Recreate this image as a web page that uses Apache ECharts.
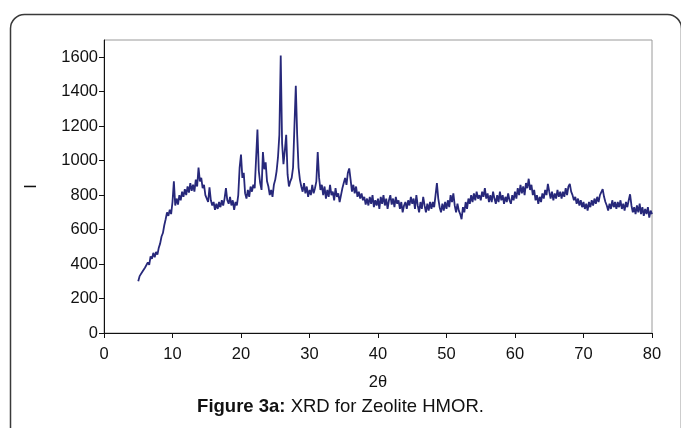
<!DOCTYPE html>
<html lang="en" style="height: 100%">
<head>
  <meta charset="utf-8" />
  <title>XRD for Zeolite HMOR</title>
</head>
<body style="height: 100%; margin: 0; background: #fff">
  <div id="container" style="width: 681px; height: 428px"></div>

  <script src="https://cdn.jsdelivr.net/npm/echarts@6/dist/echarts.min.js"></script>

  <script>
    // 2θ sampling: starts at 5°, one reading every 0.2°
    const thetaStart = 5;
    const thetaStep = 0.2;

    // intensity readings, 5° per block
    const I_05 = [300, 330, 320, 355, 345, 380, 370, 410, 395, 445, 430, 465, 440, 470, 455, 495, 520, 560, 580, 625, 660, 700, 680, 715, 690];
    const I_10 = [760, 880, 740, 780, 745, 800, 770, 820, 790, 835, 800, 850, 815, 870, 825, 860, 820, 890, 850, 960, 880, 900, 840, 860, 800];
    const I_15 = [790, 760, 845, 770, 740, 760, 715, 750, 720, 760, 730, 770, 740, 780, 840, 770, 750, 790, 740, 770, 715, 760, 740, 800, 960];
    const I_20 = [1035, 900, 930, 810, 780, 830, 790, 850, 820, 860, 840, 1010, 1180, 940, 870, 830, 1050, 950, 990, 880, 850, 800, 830, 790, 860];
    const I_25 = [890, 940, 1020, 1150, 1610, 1100, 980, 1060, 1150, 920, 850, 880, 900, 960, 1200, 1435, 1150, 960, 890, 850, 820, 870, 810, 850, 790];
    const I_30 = [830, 800, 860, 810, 840, 880, 1050, 900, 830, 860, 800, 850, 780, 830, 790, 860, 800, 820, 770, 840, 790, 810, 760, 800, 840];
    const I_35 = [870, 900, 860, 930, 955, 890, 820, 860, 810, 850, 790, 820, 780, 810, 770, 790, 745, 780, 740, 790, 750, 800, 730, 770, 740];
    const I_40 = [780, 720, 790, 750, 800, 740, 780, 720, 770, 800, 745, 780, 730, 790, 750, 770, 720, 760, 700, 740, 760, 720, 770, 740, 790];
    const I_45 = [750, 780, 720, 800, 740, 700, 760, 720, 790, 740, 700, 750, 710, 760, 720, 760, 730, 800, 870, 780, 730, 700, 750, 710, 760];
    const I_50 = [720, 770, 730, 800, 760, 810, 740, 700, 750, 710, 690, 660, 730, 700, 760, 720, 780, 750, 800, 760, 810, 770, 820, 780, 800];
    const I_55 = [770, 820, 790, 840, 780, 810, 760, 800, 760, 820, 780, 750, 800, 760, 820, 770, 800, 750, 790, 760, 810, 770, 750, 800, 770];
    const I_60 = [820, 780, 840, 800, 860, 810, 850, 800, 870, 840, 895, 830, 860, 800, 830, 770, 800, 750, 790, 760, 810, 780, 830, 800, 865];
    const I_65 = [820, 780, 820, 770, 810, 780, 830, 790, 820, 780, 820, 790, 840, 800, 850, 865, 820, 800, 770, 790, 750, 780, 740, 770, 730];
    const I_70 = [760, 720, 750, 710, 760, 730, 770, 740, 780, 750, 790, 760, 800, 790, 835, 790, 760, 740, 710, 750, 720, 770, 730, 760, 720];
    const I_75 = [760, 730, 770, 720, 750, 710, 760, 730, 770, 805, 740, 700, 730, 690, 740, 700, 750, 690, 730, 680, 720, 690, 730, 670, 710, 690];

    const yTicks = [0, 200, 400, 600, 800, 1000, 1200, 1400, 1600];
    const xTicks = [0, 10, 20, 30, 40, 50, 60, 70, 80];

    // put the blocks together as [2θ, I] pairs
    const intensity = [].concat(I_05, I_10, I_15, I_20, I_25, I_30, I_35, I_40, I_45, I_50, I_55, I_60, I_65, I_70, I_75);
    const xrdData = [];
    for (let i = 0; i < intensity.length; i++) {
      xrdData.push([+(thetaStart + i * thetaStep).toFixed(1), intensity[i]]);
    }

    var dom = document.getElementById('container');
    var myChart = echarts.init(dom, null, { renderer: 'canvas' });

    var font = 'Liberation Sans, Arial, sans-serif';

    var option = {
      animation: false,
      backgroundColor: '#fff',
      grid: {
        left: 104,
        right: 29,
        top: 40,
        bottom: 95,
        show: true,
        borderColor: '#9a9a9a',
        borderWidth: 1
      },
      xAxis: {
        type: 'value',
        min: xTicks[0],
        max: xTicks[xTicks.length - 1],
        interval: 10,
        name: '2θ',
        nameLocation: 'middle',
        nameGap: 41,
        nameTextStyle: { color: '#111', fontSize: 16.5, fontFamily: font },
        axisLine: { onZero: false, lineStyle: { color: '#111', width: 1 } },
        axisTick: { show: true, length: 5, inside: false, lineStyle: { color: '#111' } },
        axisLabel: { color: '#111', fontSize: 16.5, fontFamily: font, margin: 13 },
        splitLine: { show: false }
      },
      yAxis: {
        type: 'value',
        min: yTicks[0],
        max: 1700,
        interval: 200,
        name: 'I',
        nameLocation: 'middle',
        nameRotate: 90,
        nameGap: 64,
        nameTextStyle: { color: '#111', fontSize: 16.5, fontFamily: font },
        axisLine: { show: true, onZero: false, lineStyle: { color: '#111', width: 1 } },
        axisTick: { show: true, length: 5, inside: false, lineStyle: { color: '#111' } },
        axisLabel: {
          color: '#111',
          fontSize: 16.5,
          fontFamily: font,
          margin: 6,
          showMaxLabel: false,
          formatter: function (v) { return String(v); }
        },
        splitLine: { show: false }
      },
      series: [
        {
          name: 'I',
          type: 'line',
          data: xrdData,
          showSymbol: false,
          symbol: 'none',
          lineStyle: { color: '#27287a', width: 1.8 },
          z: 3
        }
      ],
      graphic: [
        {
          type: 'rect',
          left: 8,
          top: 12,
          shape: { width: 671, height: 440, r: 14 },
          style: { fill: 'none', stroke: '#3a3a3a', lineWidth: 1.5 },
          silent: true,
          z: -1
        },
        {
          type: 'text',
          left: 'center',
          top: 397,
          style: {
            text: '{b|Figure 3a:} XRD for Zeolite HMOR.',
            fontSize: 18.5,
            fontFamily: font,
            fill: '#111',
            rich: {
              b: { fontWeight: 'bold', fontSize: 18.5, fontFamily: font, fill: '#111' }
            }
          }
        }
      ]
    };

    myChart.setOption(option);

    window.onresize = function () {
      myChart.resize();
    };
  </script>
</body>
</html>
